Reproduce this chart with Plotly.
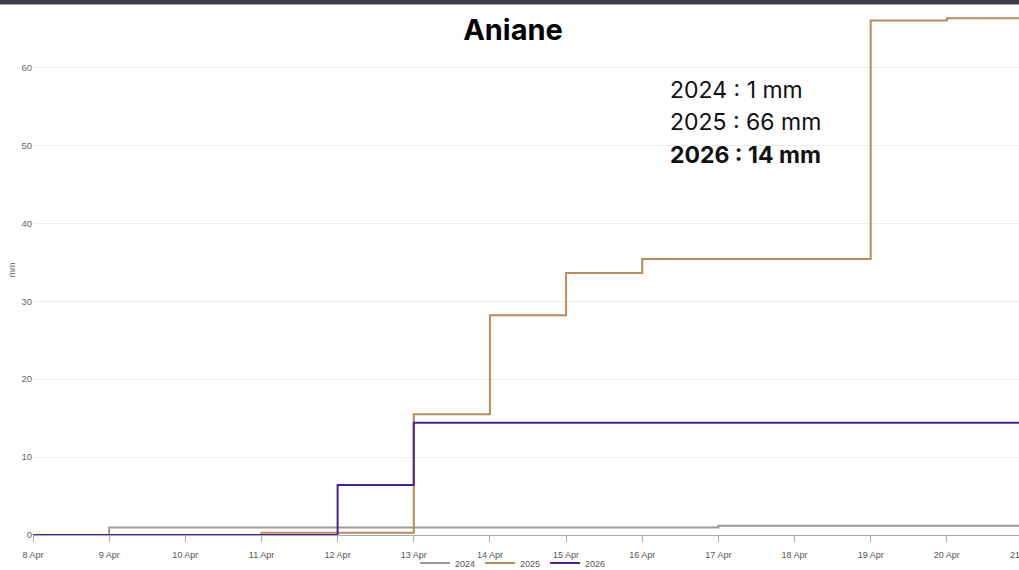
import plotly.graph_objects as go

dates = ["2026-04-%02d" % d for d in range(8, 22)]
tick_labels = ["%d Apr" % d for d in range(8, 22)]

rain_2024 = [0, 0.95, 0.95, 0.95, 0.95, 0.95, 0.95, 0.95, 0.95, 1.2, 1.2, 1.2, 1.2, 1.2]
rain_2025 = [0, 0, 0, 0.3, 0.3, 15.5, 28.2, 33.6, 35.4, 35.4, 35.4, 66.0, 66.3, 66.3]
rain_2026 = [0, 0, 0, 0, 6.4, 14.4, 14.4, 14.4, 14.4, 14.4, 14.4, 14.4, 14.4, 14.4]

series = [
    ("2024", rain_2024, "#9a9a9a"),
    ("2025", rain_2025, "#bb8b5c"),
    ("2026", rain_2026, "#4c1f9a"),
]

totals = [("2024", "1 mm", False), ("2025", "66 mm", False), ("2026", "14 mm", True)]

fig = go.Figure()
for name, vals, col in series:
    fig.add_trace(go.Scatter(x=dates, y=vals, name=name, mode="lines",
                             line=dict(color=col, width=2, shape="hv")))

W, H = 1043, 570
L, R, T, B = 33, 20, 5, 35
PH = H - T - B

fig.update_layout(
    width=W, height=H, autosize=False,
    margin=dict(l=L, r=R, t=T, b=B),
    paper_bgcolor="white", plot_bgcolor="white",
    font=dict(family="Liberation Sans, Arial, sans-serif", size=9, color="#555"),
    title=dict(text="<b>Aniane</b>", x=(513) / W, xanchor="center", y=1 - 30 / H, yanchor="middle",
               font=dict(family="Inter, Poppins, sans-serif", size=29, color="#000")),
    showlegend=True,
    legend=dict(orientation="h", xref="container", x=513 / W, xanchor="center",
                yref="container", y=(H - 563) / H, yanchor="middle",
                font=dict(size=9, color="#555"), itemwidth=30, bgcolor="rgba(0,0,0,0)",
                tracegroupgap=0),
)

fig.update_xaxes(
    type="date", range=[dates[0], dates[-1]],
    tickvals=dates, ticktext=tick_labels, automargin=False,
    showgrid=False, showline=True, linecolor="#aaaaaa", linewidth=1,
    ticks="outside", ticklen=6, tickcolor="#aaaaaa", ticklabelstandoff=5,
    tickfont=dict(size=9, color="#555"), zeroline=False,
)
fig.update_yaxes(
    range=[0, 68], tickvals=[0, 10, 20, 30, 40, 50, 60], automargin=False,
    showgrid=True, gridcolor="#ececec", gridwidth=1, zeroline=False,
    tickfont=dict(size=9.5, color="#666"), ticks="", showline=False,
    title=dict(text="mm", font=dict(size=9, color="#777"), standoff=4),
)

# dark bar at the top
fig.add_shape(type="rect", xref="paper", yref="paper", x0=-0.1, x1=1.1,
              y0=1 + 0.5 / PH, y1=1 + 10 / PH,
              fillcolor="#3c3f48", line=dict(width=0), layer="above")

ys = [90, 122, 155]
for (yr, txt, bold), ypix in zip(totals, ys):
    t = "%s : %s" % (yr, txt)
    if bold:
        t = "<b>" + t + "</b>"
    fig.add_annotation(text=t, xref="paper", yref="paper",
                       x=(668 - L) / (W - L - R), xanchor="left",
                       y=1 - (ypix - T) / PH, yanchor="middle",
                       showarrow=False,
                       font=dict(family="Inter, Poppins, sans-serif", size=23, color="#111"))

fig.write_html("out.html", config={"displayModeBar": False},
               post_script="document.body.style.margin='0';document.body.style.overflow='hidden';document.documentElement.style.overflow='hidden';")
